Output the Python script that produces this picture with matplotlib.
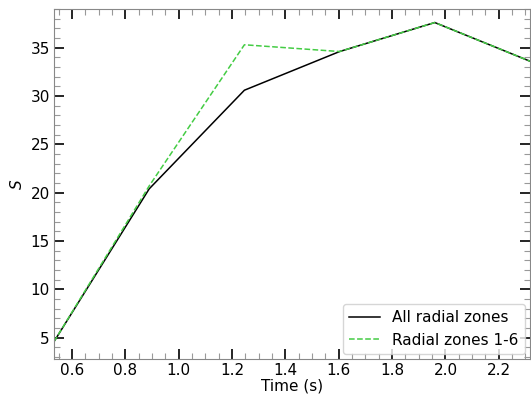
import matplotlib
matplotlib.use("Agg")
import matplotlib.pyplot as plt
from matplotlib.ticker import MultipleLocator

time = [0.532, 0.889, 1.246, 1.603, 1.960, 2.317]
s_all = [4.6, 20.4, 30.6, 34.6, 37.6, 33.6]
s_1to6 = [4.6, 20.7, 35.3, 34.6, 37.6, 33.6]

fig = plt.figure(figsize=(5.31, 3.95), dpi=100)
ax = fig.add_axes([54/531, 36/395, 476/531, 350/395])
ax.plot(time, s_all, color='black', lw=1.1, label='All radial zones')
ax.plot(time, s_1to6, color='#44cc44', lw=1.1, ls='--', label='Radial zones 1-6')
ax.set_xlim(time[0], time[-1])
ax.set_ylim(2.8, 39.0)
ax.xaxis.set_major_locator(MultipleLocator(0.2))
ax.xaxis.set_minor_locator(MultipleLocator(0.05))
ax.yaxis.set_major_locator(MultipleLocator(5))
ax.yaxis.set_minor_locator(MultipleLocator(1))
ax.tick_params(which='both', direction='in', top=True, right=True)
ax.tick_params(which='major', length=7, width=1.2, color='black', labelsize=11, pad=3)
ax.tick_params(which='minor', length=4.5, width=0.8, color='#999999')
for sp in ax.spines.values():
    sp.set_color('#888888')
ax.set_xlabel('Time (s)', fontsize=11, labelpad=0)
ax.set_ylabel('$S$', fontsize=11)
ax.legend(loc='lower right', fontsize=11, handlelength=2.0, borderaxespad=0.35)
fig.savefig('out.png', dpi=100)
